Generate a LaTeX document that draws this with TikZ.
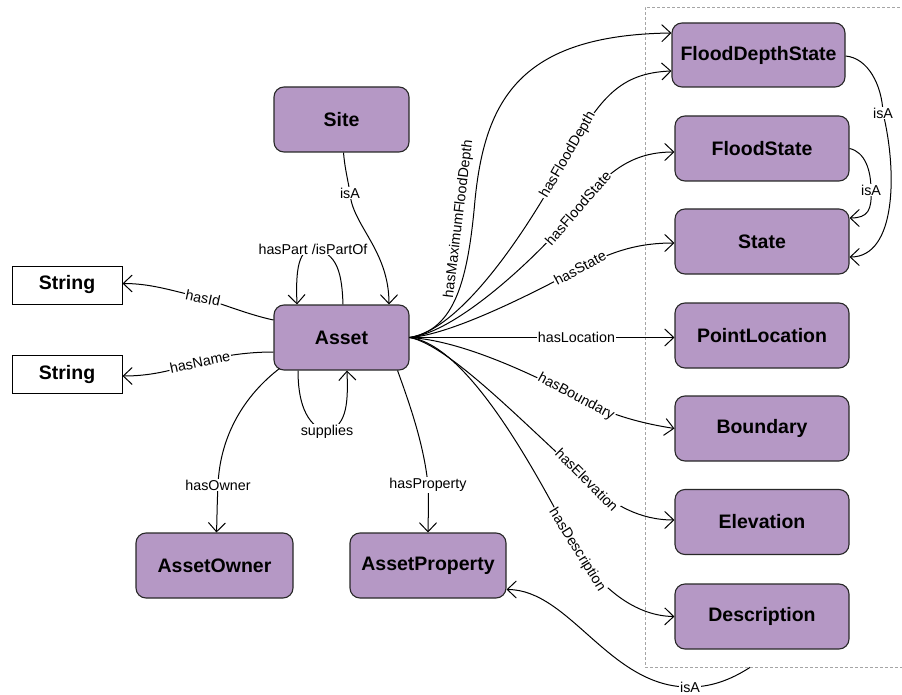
\documentclass[tikz,border=0pt]{standalone}
\usepackage{fontspec}
\setmainfont{Liberation Sans}
\usetikzlibrary{arrows.meta}

\definecolor{classfill}{RGB}{181,152,197}
\definecolor{classline}{RGB}{40,40,40}
\definecolor{groupline}{RGB}{165,165,165}

\begin{document}
\begin{tikzpicture}[x=1pt,y=-1pt,
  cls/.style={draw=classline, line width=1.1pt, fill=classfill, rounded corners=10pt,
    minimum width=174pt, minimum height=65pt, inner sep=0pt,
    font=\fontsize{19.5}{22}\selectfont\bfseries},
  lit/.style={draw=black, line width=1pt, fill=white,
    minimum width=110pt, minimum height=38pt, inner sep=0pt,
    font=\fontsize{19.5}{22}\selectfont\bfseries},
  rel/.style={draw=black, line width=1pt, -{Straight Barb[length=9pt,width=17pt]}},
  lbl/.style={fill=white, inner sep=1pt, font=\fontsize{14.3}{16}\selectfont},
  plain/.style={inner sep=1pt, font=\fontsize{14.3}{16}\selectfont},
]
\path[use as bounding box] (0,0) rectangle (902,695);
\clip (0,0) rectangle (902,695);

% dashed container of the value classes
\node[draw=groupline, line width=0.8pt, dash pattern=on 3pt off 2pt,
      minimum width=265pt, minimum height=660pt, inner sep=0pt] (grp) at (777.5,337) {};

% classes
\node[cls, minimum width=135pt] (site)  at (341.5,119.5) {Site};
\node[cls, minimum width=135pt] (asset) at (341.5,337.5) {Asset};
\node[lit] (str1) at (67,285) {String};
\node[lit] (str2) at (67,374) {String};
\node[cls, minimum width=157pt] (owner) at (214.5,565.5) {AssetOwner};
\node[cls, minimum width=156pt] (prop)  at (428,565.5) {AssetProperty};

\node[cls, minimum width=173pt, minimum height=64pt] (fds) at (758.5,55) {FloodDepthState};
\node[cls] (fs)    at (762,148.5) {FloodState};
\node[cls] (state) at (762,241.5) {State};
\node[cls] (ploc)  at (762,335.5) {PointLocation};
\node[cls] (bnd)   at (762,428.5) {Boundary};
\node[cls] (elev)  at (762,522)   {Elevation};
\node[cls] (desc)  at (762,616.5) {Description};

% Site -> Asset
\draw[rel] ([xshift=2pt]site.south) .. controls (345,170) and (348,180) .. (350,193) node[lbl]{isA}
  .. controls (352,225) and (389,250) .. ([xshift=47.5pt]asset.north);

% self relations of Asset
\draw[rel] ([xshift=1.5pt]asset.north) .. controls (342,275) and (338,252) .. (313,249) node[lbl]{hasPart /isPartOf}
  .. controls (296,249) and (296,280) .. ([xshift=-44.5pt]asset.north);
\draw[rel] ([xshift=-43.5pt]asset.south) .. controls (298,400) and (305,425) .. (327,432) node[lbl]{supplies}
  .. controls (348,425) and (348,400) .. ([xshift=5.5pt]asset.south);

% literals
\draw[rel] ([yshift=17.5pt]asset.west) .. controls (250,315) and (225,305) .. (203,298) node[lbl,rotate=-12]{hasId}
  .. controls (170,290) and (150,283.5) .. ([yshift=1.5pt]str1.east);
\draw[rel] ([yshift=-14.5pt]asset.west) .. controls (250,352) and (225,355) .. (200,362) node[lbl,rotate=12]{hasName}
  .. controls (170,371) and (150,376) .. ([yshift=-2pt]str2.east);

% owner and property
\draw[rel] ([xshift=6pt,yshift=2pt]asset.south west) .. controls (245,395) and (220,435) .. (218,485) node[lbl]{hasOwner}
  .. controls (217,505) and (217,520) .. ([xshift=2pt]owner.north);
\draw[rel] ([xshift=-12pt]asset.south east) .. controls (410,405) and (424,445) .. (428,485) node[lbl]{hasProperty}
  .. controls (429,505) and (428,520) .. (prop.north);

% state relations
\draw[rel] (asset.east) .. controls (455,330) and (468,280) .. (475,200)
  .. controls (485,100) and (520,35) .. ([yshift=22pt]fds.west);
\node[plain, rotate=83] (lmax) at (459,219) {hasMaximumFloodDepth};
\draw[rel] (asset.east) .. controls (460,330) and (525,235) .. (568,155) node[lbl,rotate=60]{hasFloodDepth}
  .. controls (600,98) and (620,73) .. ([yshift=-16pt]fds.west);
\draw[rel] (asset.east) .. controls (455,333) and (535,260) .. (578,208) node[lbl,rotate=49]{hasFloodState}
  .. controls (610,168) and (635,152) .. ([yshift=-3.5pt]fs.west);
\draw[rel] (asset.east) .. controls (450,335) and (530,295) .. (580,268) node[lbl,rotate=28]{hasState}
  .. controls (615,250) and (640,243) .. ([yshift=-1.5pt]state.west);

% spatial and descriptive relations
\draw[rel] (asset.east) -- node[lbl, pos=0.63]{hasLocation} (asset.east -| ploc.west);
\draw[rel] (asset.east) .. controls (450,340) and (505,360) .. (576,397) node[lbl,rotate=-28]{hasBoundary}
  .. controls (610,415) and (640,423) .. (bnd.west);
\draw[rel] (asset.east) .. controls (450,345) and (530,430) .. (587,480) node[lbl,rotate=-45]{hasElevation}
  .. controls (612,505) and (640,520) .. ([yshift=2pt]elev.west);
\draw[rel] (asset.east) .. controls (470,345) and (540,480) .. (577,550) node[lbl,rotate=-58]{hasDescription}
  .. controls (595,580) and (630,616) .. (desc.west);

% subclass relations
\draw[rel] ([yshift=-1pt]fds.east) .. controls (868,58) and (882,85) .. (883,113) node[lbl]{isA}
  .. controls (897,170) and (897,257) .. ([yshift=-15.5pt]state.east);
\draw[rel] (fs.east) .. controls (865,152) and (871,170) .. (871,190) node[lbl]{isA}
  .. controls (872,210) and (868,218) .. ([yshift=23.5pt]state.east);
\draw[rel] ([xshift=-27.5pt]grp.south) .. controls (735,677) and (715,687) .. (690,687) node[lbl]{isA}
  .. controls (610,688) and (570,589.5) .. ([yshift=-24pt]prop.east);
\end{tikzpicture}
\end{document}
